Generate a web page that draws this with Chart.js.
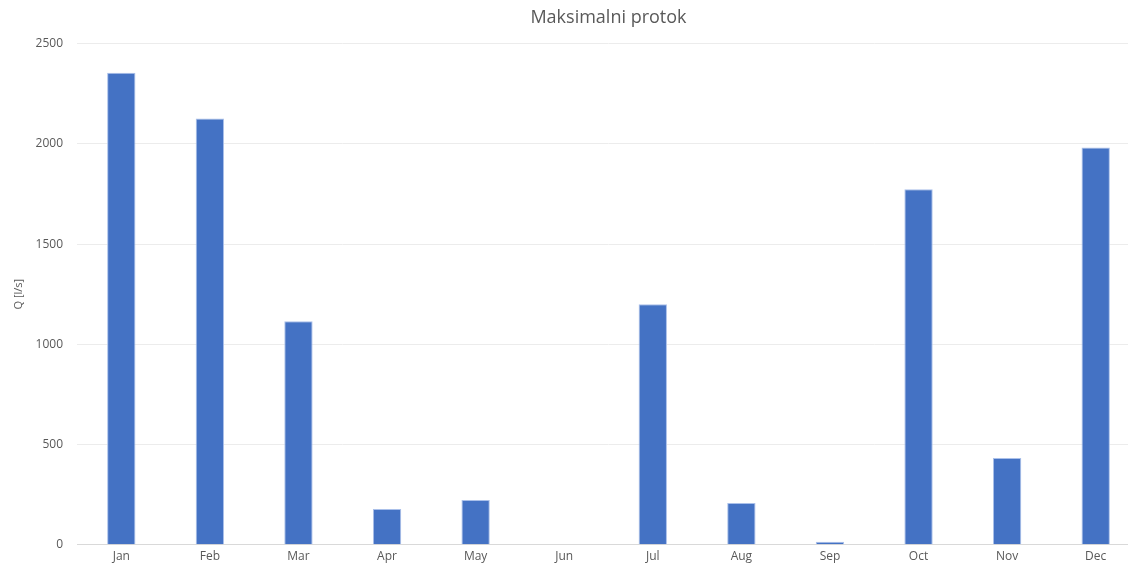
<!DOCTYPE html>
<html>
<head>
<meta charset="utf-8">
<script src="https://cdn.jsdelivr.net/npm/chart.js@4"></script>
<style>
  html, body { margin: 0; padding: 0; background: #fff; overflow: hidden; }
  #wrap { width: 1142px; height: 566px; }
</style>
</head>
<body>
<div id="wrap"><canvas id="chart"></canvas></div>
<script>
const months = ['Jan', 'Feb', 'Mar', 'Apr', 'May', 'Jun', 'Jul', 'Aug', 'Sep', 'Oct', 'Nov', 'Dec'];
const maxFlow = [2355, 2126, 1115, 179, 224, 0, 1200, 209, 15, 1773, 433, 1982];
const chartTitle = 'Maksimalni protok';
const yAxisTitle = 'Q [l/s]';

const textColor = '#595959';
const fontFamily = "'Open Sans', 'Liberation Sans', sans-serif";

const ctx = document.getElementById('chart').getContext('2d');
new Chart(ctx, {
  type: 'bar',
  data: {
    labels: months,
    datasets: [{
      label: 'Maksimalni protok',
      data: maxFlow,
      backgroundColor: '#4472c4',
      borderColor: '#aac0ea',
      borderWidth: 1,
      barPercentage: 0.32,
      categoryPercentage: 1
    }]
  },
  options: {
    responsive: true,
    maintainAspectRatio: false,
    animation: false,
    layout: { padding: { left: 0, right: 2, top: 0, bottom: 0 } },
    plugins: {
      legend: { display: false },
      tooltip: { enabled: false },
      title: {
        display: true,
        fullSize: false,
        text: chartTitle,
        color: textColor,
        font: { family: fontFamily, size: 18, weight: 'normal' },
        padding: { top: 7, bottom: 15 }
      }
    },
    scales: {
      x: {
        grid: { display: false, drawTicks: false },
        border: { color: '#d9d9d9', width: 1 },
        ticks: {
          color: textColor,
          font: { family: fontFamily, size: 12 },
          padding: 5
        },
        afterFit(scale) { scale.height = 19; }
      },
      y: {
        min: 0,
        max: 2500,
        ticks: {
          stepSize: 500,
          color: textColor,
          font: { family: fontFamily, size: 12 },
          padding: 14,
          callback: (value) => String(value)
        },
        grid: { color: '#ececec', drawTicks: false },
        border: { display: false },
        title: {
          display: true,
          text: yAxisTitle,
          color: textColor,
          font: { family: fontFamily, size: 11 },
          padding: { top: 12, bottom: 4 }
        },
        afterFit(scale) { scale.width = 77; }
      }
    }
  }
});
</script>
</body>
</html>
